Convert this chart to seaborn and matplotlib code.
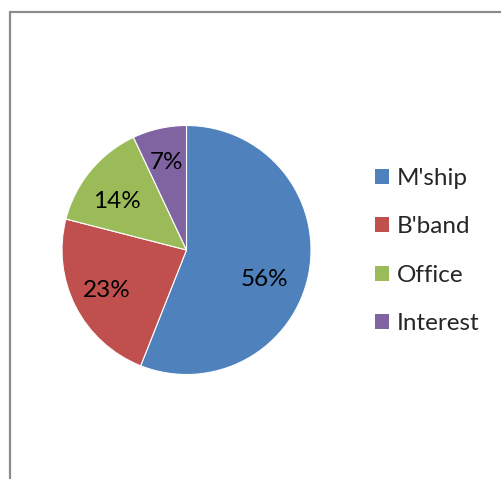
import matplotlib
matplotlib.use("Agg")
import matplotlib.pyplot as plt
import seaborn as sns
import numpy as np
from matplotlib.lines import Line2D
from matplotlib.patches import Patch

categories = ["M'ship", "B'band", "Office", "Interest"]
values = [56, 23, 14, 7]
colors = ["#4F81BD", "#C0504D", "#9BBB59", "#8064A2"]

sns.set_theme(style="white")
plt.rcParams['font.family'] = ['Lato', 'DejaVu Sans']

W, H = 502, 479
fig = plt.figure(figsize=(W / 100, H / 100), dpi=100)
fig.patch.set_facecolor("white")

# pie axes: center (186.5, 250) px, radius 124.5 px
cx, cy, r = 186.5, 250, 124.5
ax = fig.add_axes([(cx - r) / W, 1 - (cy + r) / H, 2 * r / W, 2 * r / H])

palette = sns.color_palette(colors)
wedges, _ = ax.pie(values, colors=palette, startangle=90, counterclock=False,
                   radius=1, wedgeprops=dict(edgecolor="white", linewidth=0.8))
ax.set_xlim(-1, 1)
ax.set_ylim(-1, 1)
ax.set_aspect("equal")
ax.axis("off")

# label placement (Excel-like best fit)
label_dist = [0.67, 0.72, 0.68, 0.72]
angle_off = [-10, 0, 5, 0]
total = sum(values)
for w, v, d, off in zip(wedges, values, label_dist, angle_off):
    mid = np.deg2rad((w.theta1 + w.theta2) / 2 + off)
    ax.text(d * np.cos(mid), d * np.sin(mid), f"{round(100 * v / total)}%",
            ha="center", va="center", fontsize=17.5, color="black")

handles = [Patch(facecolor=c, edgecolor="none") for c in palette]
ax.legend(handles, categories, loc="center left",
          bbox_to_anchor=(375.5 / W, 1 - 251 / H), bbox_transform=fig.transFigure,
          frameon=False, fontsize=17.5, handlelength=0.57, handleheight=0.57,
          handletextpad=0.3, labelspacing=1.12, borderpad=0, borderaxespad=0)

# chart border (left & top visible)
fig.add_artist(Line2D([10.5 / W, 10.5 / W], [0, 1 - 12 / H], transform=fig.transFigure,
                      color="#8c8c8c", linewidth=1.6))
fig.add_artist(Line2D([10.5 / W, 1], [1 - 12 / H, 1 - 12 / H], transform=fig.transFigure,
                      color="#8c8c8c", linewidth=1.6))

fig.savefig("out.png", dpi=100)
